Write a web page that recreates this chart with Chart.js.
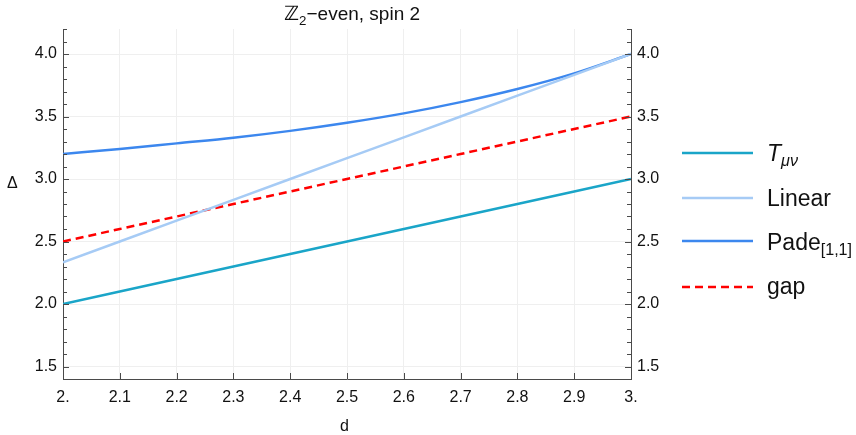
<!DOCTYPE html>
<html>
<head>
<meta charset="utf-8">
<script src="https://cdn.jsdelivr.net/npm/chart.js@4.4.1/dist/chart.umd.min.js"></script>
<style>
  html, body { margin: 0; padding: 0; background: #fff; }
  #wrap { position: relative; width: 856px; height: 435px; font-family: "Liberation Sans", Arial, sans-serif; color: #111; }
  canvas { position: absolute; left: 0; top: 0; }
  .lbl { position: absolute; white-space: nowrap; line-height: 1; }
  .title { font-size: 19px; top: 3px; left: 284px; }
  .zz { font-family: "DejaVu Sans", sans-serif; font-size: 20px; font-weight: bold; }
  .ax { font-size: 16px; }
  .leg { font-size: 23px; left: 767px; transform: translateY(-50%); }
  sub { font-size: 70%; vertical-align: -0.35em; line-height: 0; }
</style>
</head>
<body>
<div id="wrap">
  <canvas id="c" width="856" height="435"></canvas>
  <div class="lbl title"><span class="zz">ℤ</span><sub>2</sub>−even, spin 2</div>
  <div class="lbl ax" style="left:7px; top:175px;">Δ</div>
  <div class="lbl ax" style="left:340px; top:418px;">d</div>
  <div class="lbl leg" style="top:153px;"><i>T</i><sub><i>μν</i></sub></div>
  <div class="lbl leg" style="top:198px;">Linear</div>
  <div class="lbl leg" style="top:242px;">Pade<sub>[1,1]</sub></div>
  <div class="lbl leg" style="top:286px;">gap</div>
</div>
<script>
// ---- data ----
const dValues     = [2.0, 2.1, 2.2, 2.3, 2.4, 2.5, 2.6, 2.7, 2.8, 2.9, 3.0];
const tmunuValues = [2.0, 2.1, 2.2, 2.3, 2.4, 2.5, 2.6, 2.7, 2.8, 2.9, 3.0];
const linearValues= [2.333, 2.5, 2.667, 2.833, 3.0, 3.167, 3.333, 3.5, 3.667, 3.833, 4.0];
const padeValues  = [3.20, 3.24, 3.285, 3.33, 3.385, 3.45, 3.525, 3.615, 3.72, 3.845, 4.0];
const gapValues   = [2.5, 2.6, 2.7, 2.8, 2.9, 3.0, 3.1, 3.2, 3.3, 3.4, 3.5];
const seriesNames = ['Tμν', 'Linear', 'Pade[1,1]', 'gap'];
const xTickValues = [2.0, 2.1, 2.2, 2.3, 2.4, 2.5, 2.6, 2.7, 2.8, 2.9, 3.0];
const xTickLabels = ['2.', '2.1', '2.2', '2.3', '2.4', '2.5', '2.6', '2.7', '2.8', '2.9', '3.'];
const yTickValues = [1.5, 2.0, 2.5, 3.0, 3.5, 4.0];
const yTickLabels = ['1.5', '2.0', '2.5', '3.0', '3.5', '4.0'];
const yMinorValues = [1.4,1.6,1.7,1.8,1.9,2.1,2.2,2.3,2.4,2.6,2.7,2.8,2.9,3.1,3.2,3.3,3.4,3.6,3.7,3.8,3.9,4.1,4.2];

const pts = vals => dValues.map((d, i) => ({x: d, y: vals[i]}));
const FONT = {family: '"Liberation Sans", Arial, sans-serif', size: 16};
const AXIS = '#4a4a4a';
const GRID = '#efefef';

const legendRows = [153, 198, 241, 287];

const inwardTicks = {
  id: 'inwardTicks',
  afterDraw(chart) {
    const ctx = chart.ctx, ca = chart.chartArea;
    const xs = chart.scales.x, ys = chart.scales.y;
    ctx.save();
    ctx.strokeStyle = AXIS; ctx.lineWidth = 1;
    ctx.beginPath();
    xTickValues.forEach(v => {
      const px = Math.round(xs.getPixelForValue(v)) + 0.5;
      ctx.moveTo(px, ca.bottom); ctx.lineTo(px, ca.bottom - 6);
    });
    yTickValues.forEach(v => {
      const py = Math.round(ys.getPixelForValue(v)) + 0.5;
      ctx.moveTo(ca.left, py); ctx.lineTo(ca.left + 6, py);
      ctx.moveTo(ca.right, py); ctx.lineTo(ca.right - 6, py);
    });
    yMinorValues.forEach(v => {
      const py = Math.round(ys.getPixelForValue(v)) + 0.5;
      ctx.moveTo(ca.left, py); ctx.lineTo(ca.left + 4, py);
      ctx.moveTo(ca.right, py); ctx.lineTo(ca.right - 4, py);
    });
    ctx.stroke();
    // legend samples
    chart.data.datasets.forEach((ds, i) => {
      const y = legendRows[i];
      ctx.beginPath();
      ctx.strokeStyle = ds.borderColor;
      ctx.lineWidth = ds.borderWidth;
      ctx.setLineDash(ds.borderDash || []);
      ctx.moveTo(682, y); ctx.lineTo(753, y);
      ctx.stroke();
    });
    ctx.restore();
  }
};

new Chart(document.getElementById('c'), {
  type: 'line',
  data: {
    datasets: [
      {label: seriesNames[0], data: pts(tmunuValues), borderColor: '#1aa5c8', borderWidth: 2.5, pointRadius: 0},
      {label: seriesNames[1], data: pts(linearValues), borderColor: '#a6cbf5', borderWidth: 2.5, pointRadius: 0},
      {label: seriesNames[2], data: pts(padeValues), borderColor: '#3c87ee', borderWidth: 2.5, pointRadius: 0, cubicInterpolationMode: 'monotone'},
      {label: seriesNames[3], data: pts(gapValues), borderColor: '#ff0000', borderWidth: 2.5, pointRadius: 0, borderDash: [8, 5]}
    ]
  },
  options: {
    responsive: false,
    animation: false,
    layout: {padding: {top: 29, left: 0, right: 0, bottom: 0}},
    plugins: {legend: {display: false}, title: {display: false}, tooltip: {enabled: false}},
    scales: {
      x: {
        type: 'linear', min: 2, max: 3,
        afterBuildTicks: s => { s.ticks = xTickValues.map(v => ({value: v})); },
        afterFit: s => { s.height = 56; },
        ticks: {font: FONT, color: '#111', padding: 9, maxRotation: 0, autoSkip: false,
          callback: (v) => { const i = xTickValues.findIndex(t => Math.abs(t - v) < 1e-9); return i >= 0 ? xTickLabels[i] : ''; }},
        grid: {color: GRID, lineWidth: 1, drawTicks: false},
        border: {display: true, color: AXIS, width: 1}
      },
      y: {
        type: 'linear', position: 'left', min: 1.4, max: 4.2,
        afterBuildTicks: s => { s.ticks = yTickValues.map(v => ({value: v})); },
        afterFit: s => { s.width = 63; },
        ticks: {font: FONT, color: '#111', padding: 6, autoSkip: false,
          callback: (v) => { const i = yTickValues.findIndex(t => Math.abs(t - v) < 1e-9); return i >= 0 ? yTickLabels[i] : ''; }},
        grid: {color: GRID, lineWidth: 1, drawTicks: false},
        border: {display: true, color: AXIS, width: 1}
      },
      y2: {
        type: 'linear', position: 'right', min: 1.4, max: 4.2,
        afterBuildTicks: s => { s.ticks = yTickValues.map(v => ({value: v})); },
        afterFit: s => { s.width = 225; },
        ticks: {font: FONT, color: '#111', padding: 6, autoSkip: false,
          callback: (v) => { const i = yTickValues.findIndex(t => Math.abs(t - v) < 1e-9); return i >= 0 ? yTickLabels[i] : ''; }},
        grid: {drawOnChartArea: false, drawTicks: false},
        border: {display: true, color: AXIS, width: 1}
      }
    }
  },
  plugins: [inwardTicks]
});
</script>
</body>
</html>
